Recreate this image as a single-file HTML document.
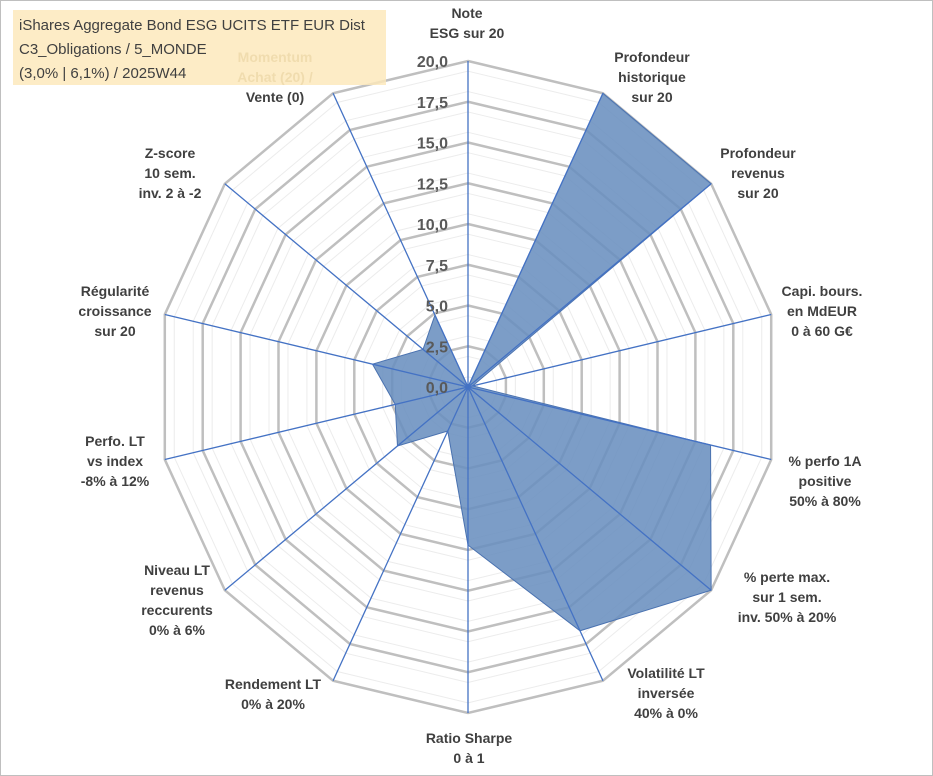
<!DOCTYPE html>
<html><head><meta charset="utf-8">
<style>
body{margin:0;background:#fff;}
#wrap{position:relative;width:933px;height:776px;overflow:hidden;font-family:"Liberation Sans",sans-serif;}
#frame{position:absolute;left:0;top:0;width:931px;height:774px;border:1px solid #bfbfbf;}
#title{position:absolute;left:13px;top:10px;width:373px;height:75px;background:rgba(253,232,185,0.82);font-family:"Liberation Sans",sans-serif;font-size:15px;color:#404040;line-height:24px;padding:4px 0 0 6px;box-sizing:border-box;white-space:nowrap;}
</style></head><body>
<div id="wrap">
<div id="frame"></div>
<svg id="chart" width="933" height="776" style="position:absolute;left:0;top:0"></svg>
<div id="title">iShares Aggregate Bond ESG UCITS ETF EUR Dist<br>C3_Obligations / 5_MONDE<br>(3,0% | 6,1%) / 2025W44</div>
</div>
<script>
const categories=[["Note","ESG sur 20"],["Profondeur","historique","sur 20"],["Profondeur","revenus","sur 20"],["Capi. bours.","en MdEUR","0 à 60 G€"],["% perfo 1A","positive","50% à 80%"],["% perte max.","sur 1 sem.","inv. 50% à 20%"],["Volatilité LT","inversée","40% à 0%"],["Ratio Sharpe","0 à 1"],["Rendement LT","0% à 20%"],["Niveau LT","revenus","reccurents","0% à 6%"],["Perfo. LT","vs index","-8% à 12%"],["Régularité","croissance","sur 20"],["Z-score","10 sem.","inv. 2 à -2"],["Momentum","Achat (20) /","Vente (0)"]];
const values=[0,20,20,0.3,16.0,20,16.6,9.7,3.0,5.8,4.8,6.3,3.7,4.9];
const tickLabels=["0,0","2,5","5,0","7,5","10,0","12,5","15,0","17,5","20,0"];
const tickValues=[0,2.5,5,7.5,10,12.5,15,17.5,20];
const labelPos=[[467,18],[652,62],[758,158],[822,296],[825,466],[787,582],[666,678],[469,743],[273,689],[177,575],[115,446],[115,296],[170,158],[275,62]];
const labelColors={13:["#b8a47a","#b8a47a","#404040"]};

const svg=document.getElementById('chart');
const NS='http://www.w3.org/2000/svg';
const cx=468,cy=387,RX=311,RY=326,maxV=20,N=categories.length;
function ang(i){return i*2*Math.PI/N;}
function pt(i,v){const f=v/maxV;return [cx+f*RX*Math.sin(ang(i)),cy-f*RY*Math.cos(ang(i))];}
function el(t,a){const e=document.createElementNS(NS,t);for(const k in a)e.setAttribute(k,a[k]);svg.appendChild(e);return e;}
for(let k=0;k<16;k++){const v=(k+0.5)*1.25;const pts=[];for(let i=0;i<N;i++)pts.push(pt(i,v).join(','));
 const e=el('polygon',{points:pts.join(' '),fill:'none',stroke:'#ececec','stroke-width':1});
 
 }
tickValues.forEach(v=>{if(v===0)return;const pts=[];for(let i=0;i<N;i++)pts.push(pt(i,v).join(','));
 const e=el('polygon',{points:pts.join(' '),fill:'none',stroke:'#bfbfbf','stroke-width':2.5});
 
 });
const sp=values.map((v,i)=>pt(i,v).join(',')).join(' ');
const poly=el('polygon',{points:sp,fill:'#6a90bf','fill-opacity':0.88,stroke:'#4a72b0','stroke-width':1});


for(let i=0;i<N;i++){const p=pt(i,maxV);
 const l=el('line',{x1:cx,y1:cy,x2:p[0],y2:p[1],stroke:'#4472c4','stroke-width':1.3});
 
 }
tickValues.forEach((v,k)=>{const t=el('text',{x:448,y:cy-v/maxV*RY+6,'text-anchor':'end','font-size':16,'font-weight':'bold',fill:'#595959','font-family':'Liberation Sans, sans-serif'});
 t.textContent=tickLabels[k];
 
 });
categories.forEach((lines,i)=>{const [x,y]=labelPos[i];
 lines.forEach((s,j)=>{const t=el('text',{x:x,y:y+j*20,'text-anchor':'middle','font-size':14,'font-weight':'bold',fill:(labelColors[i]?labelColors[i][j]:'#404040'),'font-family':'Liberation Sans, sans-serif'});
  t.textContent=s;
  
  });});
</script>
</body></html>
